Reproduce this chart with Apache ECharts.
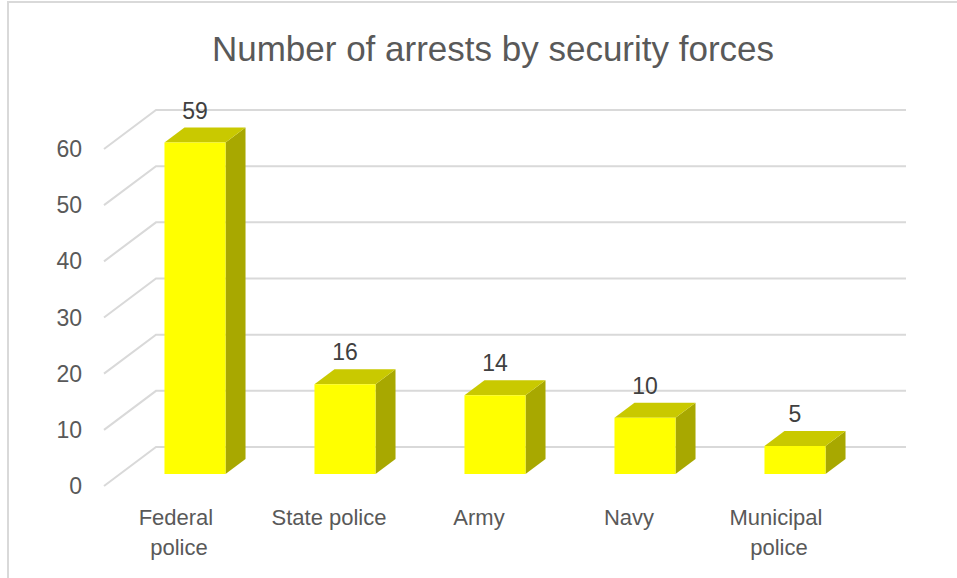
<!DOCTYPE html>
<html>
<head>
<meta charset="utf-8">
<script src="https://cdn.jsdelivr.net/npm/echarts@6/dist/echarts.min.js"></script>
<style>
  html, body { margin: 0; padding: 0; background: #ffffff; overflow: hidden; }
  #wrap { position: relative; width: 957px; height: 578px; overflow: hidden; }
  #frame { position: absolute; left: 7px; top: 1px; width: 1200px; height: 1200px;
           border-left: 2px solid #d9d9d9; border-top: 2px solid #d9d9d9; box-sizing: border-box; }
  #chart { position: absolute; left: 0; top: 0; width: 957px; height: 578px; }
</style>
</head>
<body>
<div id="wrap">
  <div id="frame"></div>
  <div id="chart"></div>
</div>
<script>
// ---- data ----
const titleText = 'Number of arrests by security forces';
const categories = ['Federal police', 'State police', 'Army', 'Navy', 'Municipal police'];
const arrests = [59, 16, 14, 10, 5];
const yTicks = [0, 10, 20, 30, 40, 50, 60];

// ---- pseudo-3D geometry (pixels) ----
const FONT = 'Liberation Sans, Arial, sans-serif';
const WALL_DX = 52, WALL_DY = 39;     // depth of the floor/back wall
const BAR_OFF_DX = 16, BAR_OFF_DY = 12; // bar front face offset from the front plane
const BAR_DEPTH_DX = 20, BAR_DEPTH_DY = 15;
const BAR_FRAC = 0.407;

const chart = echarts.init(document.getElementById('chart'), null, { renderer: 'svg' });

function gridRender(params, api) {
  const cs = params.coordSys;
  const p = api.coord([0, api.value(1)]);
  const y = p[1];
  const xl = cs.x;
  const xr = cs.x + cs.width + WALL_DX;
  return {
    type: 'polyline',
    shape: { points: [[xl, y], [xl + WALL_DX, y - WALL_DY], [xr, y - WALL_DY]] },
    style: { stroke: '#d9d9d9', lineWidth: 2, fill: null },
    silent: true
  };
}

function barRender(params, api) {
  const idx = api.value(0);
  const val = api.value(1);
  const c0 = api.coord([idx, 0]);
  const c1 = api.coord([idx, val]);
  const bw = api.size([1, 0])[0] * BAR_FRAC;
  const x0 = c0[0] + BAR_OFF_DX - bw / 2;
  const x1 = x0 + bw;
  const yb = c0[1] - BAR_OFF_DY;
  const yt = c1[1] - BAR_OFF_DY;
  const dx = BAR_DEPTH_DX, dy = BAR_DEPTH_DY;
  return {
    type: 'group',
    children: [
      { type: 'polygon', shape: { points: [[x1, yt], [x1 + dx, yt - dy], [x1 + dx, yb - dy], [x1, yb]] },
        style: { fill: '#a8a800' } },
      { type: 'polygon', shape: { points: [[x0, yt], [x1, yt], [x1 + dx, yt - dy], [x0 + dx, yt - dy]] },
        style: { fill: '#c9c900' } },
      { type: 'rect', shape: { x: x0, y: yt, width: bw, height: yb - yt },
        style: { fill: '#ffff00' } },
      { type: 'text', x: x0 + bw / 2, y: yt - dy - 17,
        style: { text: String(val), fill: '#404040', font: '23px ' + FONT,
                 align: 'center', verticalAlign: 'middle' } }
    ]
  };
}

chart.setOption({
  animation: false,
  backgroundColor: 'transparent',
  title: {
    text: titleText,
    left: 488, top: 26, textAlign: 'center',
    textStyle: { color: '#595959', fontSize: 35, fontWeight: 'normal', fontFamily: FONT }
  },
  grid: { left: 104, right: 103, top: 149, bottom: 92 },
  xAxis: {
    type: 'category',
    data: categories,
    axisLine: { show: false },
    axisTick: { show: false },
    splitLine: { show: false },
    axisLabel: {
      color: '#595959', fontSize: 22, fontFamily: FONT, margin: 16,
      lineHeight: 30, width: 120, overflow: 'break', interval: 0
    }
  },
  yAxis: {
    type: 'value',
    min: 0, max: 60, interval: 10,
    axisLine: { show: false },
    axisTick: { show: false },
    splitLine: { show: false },
    axisLabel: { color: '#595959', fontSize: 23, fontFamily: FONT, margin: 22 }
  },
  series: [
    {
      type: 'custom',
      renderItem: gridRender,
      data: yTicks.map(v => [0, v]),
      encode: { x: 0, y: 1 },
      silent: true,
      z: 1
    },
    {
      type: 'custom',
      renderItem: barRender,
      data: arrests.map((v, i) => [i, v]),
      encode: { x: 0, y: 1 },
      z: 2
    }
  ]
});
</script>
</body>
</html>
